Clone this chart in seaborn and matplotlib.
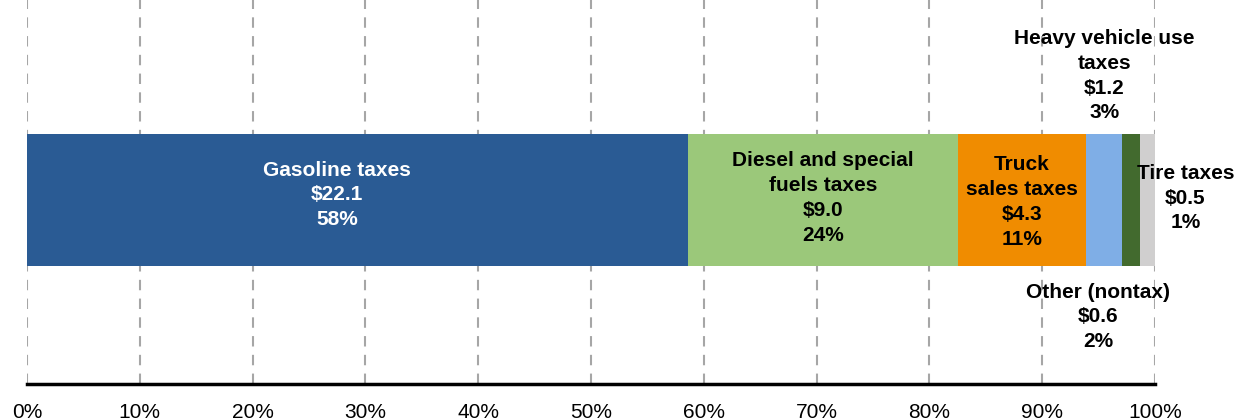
import matplotlib
matplotlib.use("Agg")
import matplotlib.pyplot as plt
import seaborn as sns
import pandas as pd
import numpy as np

# ---- data ----
categories = ["Gasoline taxes", "Diesel and special\nfuels taxes", "Truck\nsales taxes",
              "Heavy vehicle use\ntaxes", "Other (nontax)", "Tire taxes"]
values = [22.1, 9.0, 4.3, 1.2, 0.6, 0.5]          # $ billions
pct_labels = [58, 24, 11, 3, 2, 1]                 # percent shown in labels
colors = ["#2A5B94", "#9BC87A", "#F08C00", "#7FAEE6", "#426A2E", "#D0CFCF"]
text_colors = ["white", "black", "black", "black", "black", "black"]
xticks = list(range(0, 101, 10))

sns.set_theme(style="white")
plt.rcParams["font.family"] = ["Liberation Sans", "DejaVu Sans"]

total = sum(values)
shares = [v / total * 100 for v in values]
cum = np.cumsum(shares)
lefts = cum - np.array(shares)

fig = plt.figure(figsize=(12.37, 4.2), dpi=100)
ax = fig.add_axes([27 / 1237, 36 / 420, 1128 / 1237, 384 / 420])

# stacked bar: draw cumulative bars from largest to smallest
for i in reversed(range(len(values))):
    df = pd.DataFrame({"row": ["all"], "cum": [cum[i]]})
    sns.barplot(data=df, x="cum", y="row", orient="h", color=colors[i],
                width=1.0, saturation=1, ax=ax, linewidth=0, zorder=3)

ax.set_xlim(0, 100)
ax.set_ylim(1.394, -1.515)
ax.set_xticks(xticks)
ax.set_xticklabels([f"{t}%" for t in xticks], fontsize=15)
ax.set_yticks([])
ax.set_xlabel("")
ax.set_ylabel("")
ax.tick_params(axis="x", length=0, pad=14, colors="black")

ax.set_axisbelow(True)
ax.xaxis.grid(True, linestyle=(0, (5, 4)), color="#A6A6A6", linewidth=1.5, zorder=0)
for s in ["top", "right", "left"]:
    ax.spines[s].set_visible(False)
ax.spines["bottom"].set_color("black")
ax.spines["bottom"].set_linewidth(2.5)
ax.spines["bottom"].set_zorder(5)

# label positions relative to segments
centers = lefts + np.array(shares) / 2
label_x = [centers[0] - 1.8, centers[1], centers[2], centers[3], centers[4] - 2.9, cum[5] + 2.7]
label_y = [-0.04, -0.015, 0.015, -0.94, 0.886, -0.015]

for i in range(len(values)):
    txt = f"{categories[i]}\n${values[i]:.1f}\n{pct_labels[i]}%"
    ax.text(label_x[i], label_y[i], txt, ha="center", va="center", fontsize=15,
            fontweight="bold", color=text_colors[i], linespacing=1.38, zorder=6,
            clip_on=False)

fig.savefig("out.png", dpi=100)
